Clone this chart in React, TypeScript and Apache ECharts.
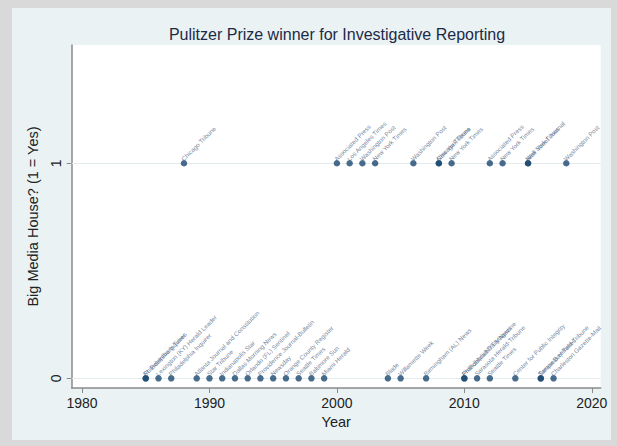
import React, { useEffect, useRef } from "react";
import * as echarts from "echarts";

const titleText = "Pulitzer Prize winner for Investigative Reporting";
const xTitle = "Year";
const yTitle = "Big Media House? (1 = Yes)";

const xTicks = [1980, 1990, 2000, 2010, 2020];
const yTicks = [0, 1];

// Big media house = 1
const yearsYes = [1988, 2000, 2001, 2002, 2003, 2006, 2008, 2008, 2009, 2012, 2013, 2015, 2015, 2018];
const namesYes = [
  "Chicago Tribune",
  "Associated Press",
  "Los Angeles Times",
  "Washington Post",
  "New York Times",
  "Washington Post",
  "Chicago Tribune",
  "New York Times",
  "New York Times",
  "Associated Press",
  "New York Times",
  "New York Times",
  "Wall Street Journal",
  "Washington Post",
];

// Big media house = 0
const yearsNo = [
  1985, 1985, 1986, 1987, 1989, 1990, 1991, 1992, 1993, 1994, 1995, 1996, 1997, 1998, 1999,
  2004, 2005, 2007, 2010, 2010, 2011, 2012, 2014, 2016, 2016, 2017,
];
const namesNo = [
  "Philadelphia Inquirer",
  "St. Petersburg Times",
  "Lexington (KY) Herald Leader",
  "Philadelphia Inquirer",
  "Atlanta Journal and Constitution",
  "Star Tribune",
  "Indianapolis Star",
  "Dallas Morning News",
  "Orlando (FL) Sentinel",
  "Providence Journal-Bulletin",
  "Newsday",
  "Orange County Register",
  "Seattle Times",
  "Baltimore Sun",
  "Miami Herald",
  "Blade",
  "Willamette Week",
  "Birmingham (AL) News",
  "Philadelphia Daily News",
  "ProPublica/NYT Magazine",
  "Sarasota Herald-Tribune",
  "Seattle Times",
  "Center for Public Integrity",
  "Tampa Bay Times",
  "Sarasota Herald-Tribune",
  "Charleston Gazette-Mail",
];

const FONT = "'Liberation Sans', Arial, Helvetica, sans-serif";
const NAVY = "#1a476f";
const AXIS = "#8a8a8a";

export default function App() {
  const ref = useRef<HTMLDivElement>(null);
  useEffect(() => {
    const chart = echarts.init(ref.current!, null, { renderer: "svg" });
    const data = [
      ...yearsNo.map((y, i) => ({ value: [y, 0], name: namesNo[i] })),
      ...yearsYes.map((y, i) => ({ value: [y, 1], name: namesYes[i] })),
    ];
    chart.setOption({
      animation: false,
      backgroundColor: "#d9d9d9",
      textStyle: { fontFamily: FONT },
      graphic: [
        {
          type: "rect",
          z: -100,
          silent: true,
          shape: { x: 12, y: 8, width: 599, height: 432 },
          style: { fill: "#eaf2f3" },
        },
        {
          type: "text",
          x: 337,
          y: 34,
          z: 10,
          style: {
            text: titleText,
            fontSize: 16,
            fontFamily: FONT,
            fill: "#1c2a48",
            align: "center",
            verticalAlign: "middle",
          },
        },
      ],
      grid: {
        left: 71.7,
        right: 16.3,
        top: 45,
        bottom: 58,
        show: true,
        backgroundColor: "#ffffff",
        borderWidth: 0,
      },
      xAxis: {
        type: "value",
        min: 1979.19,
        max: 2020.7,
        name: xTitle,
        nameLocation: "middle",
        nameGap: 26,
        nameTextStyle: { fontSize: 14.5, color: "#222", fontFamily: FONT },
        axisLine: { show: true, onZero: false, lineStyle: { color: AXIS, width: 1.5 } },
        axisTick: { show: true, length: 5, customValues: xTicks, lineStyle: { color: AXIS, width: 1 } },
        axisLabel: {
          customValues: xTicks,
          formatter: (v: number) => String(v),
          fontSize: 14,
          color: "#222",
          margin: 8,
          fontFamily: FONT,
        },
        splitLine: { show: false },
      },
      yAxis: {
        type: "value",
        min: -0.045,
        max: 1.55,
        name: yTitle,
        nameLocation: "middle",
        nameRotate: 90,
        nameGap: 28,
        nameTextStyle: { fontSize: 14.5, color: "#222", fontFamily: FONT },
        axisLine: { show: true, onZero: false, lineStyle: { color: AXIS, width: 1.5 } },
        axisTick: { show: true, length: 5, customValues: yTicks, lineStyle: { color: AXIS, width: 1 } },
        axisLabel: {
          customValues: yTicks,
          formatter: (v: number) => String(v),
          rotate: 90,
          fontSize: 14,
          color: "#222",
          margin: 9,
          fontFamily: FONT,
        },
        splitLine: { show: false },
      },
      series: [
        {
          type: "scatter",
          z: 1,
          silent: true,
          data: [],
          markLine: {
            z: 1,
            silent: true,
            symbol: ["none", "none"],
            label: { show: false },
            lineStyle: { color: "#e2ebee", width: 1, type: "solid" },
            data: yTicks.map((v) => ({ yAxis: v })),
          },
        },
        {
          type: "scatter",
          z: 3,
          clip: false,
          symbolSize: 6.5,
          itemStyle: { color: NAVY },
          data,
          label: {
            show: true,
            formatter: "{b}",
            position: "right",
            distance: 0,
            rotate: 45,
            align: "left",
            verticalAlign: "middle",
            offset: [-1, -6],
            fontSize: 6.3,
            color: "#4f6684",
            fontFamily: FONT,
          },
        },
      ],
    });
    return () => chart.dispose();
  }, []);
  return (
    <div
      ref={ref}
      style={{ position: "absolute", left: 0, top: 0, width: 617, height: 446 }}
    />
  );
}
